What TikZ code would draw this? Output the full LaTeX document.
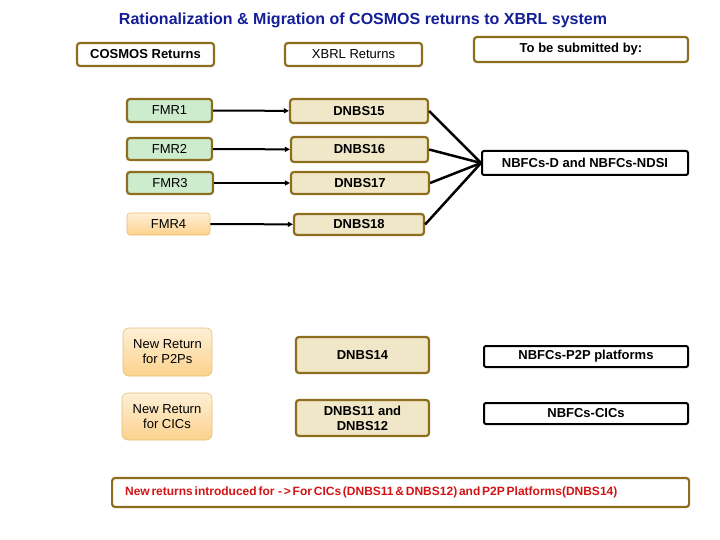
\documentclass[tikz,border=0pt]{standalone}
\usepackage{fontspec}
\setmainfont{Liberation Sans}
\usetikzlibrary{arrows.meta}
\definecolor{olive}{RGB}{140,110,30}
\definecolor{grn}{RGB}{205,235,205}
\definecolor{tan}{RGB}{240,230,200}
\definecolor{peach}{RGB}{252,210,140}
\definecolor{ttl}{RGB}{20,30,150}
\definecolor{redt}{RGB}{210,20,20}
\begin{document}
\begin{tikzpicture}[x=1pt,y=-1pt,
  bx/.style={rounded corners=3pt,line width=2.2pt,draw=olive,inner sep=0pt,font=\fontsize{13}{15}\selectfont},
  hdr/.style={bx,fill=white,font=\fontsize{13}{15}\selectfont\bfseries},
  fmr/.style={bx,fill=grn},
  dn/.style={bx,fill=tan,font=\fontsize{13}{15}\selectfont\bfseries,align=center},
  nr/.style={rounded corners=6pt,draw=peach!80!olive,line width=0.6pt,top color=peach!35,bottom color=peach,inner sep=0pt,align=center,font=\fontsize{13}{15}\selectfont},
  sb/.style={rounded corners=2pt,draw=black,line width=2pt,fill=white,inner sep=0pt,font=\fontsize{13}{15}\selectfont\bfseries},
  ar/.style={line width=2pt,-{Triangle[length=5pt,width=5pt]}},
  ln/.style={line width=2.5pt}]
\useasboundingbox (0,0) rectangle (720,540);
\node[font=\fontsize{16}{18}\selectfont\bfseries,text=ttl] (title) at (363,20) {Rationalization \& Migration of COSMOS returns to XBRL system};
\node[hdr,minimum width=137,minimum height=23] (cr) at (145.5,54.5) {COSMOS Returns};
\node[hdr,minimum width=137,minimum height=23,font=\fontsize{13}{15}\selectfont] (xr) at (353.5,54.5) {XBRL Returns};
\node[hdr,minimum width=214,minimum height=25] (tb) at (581,49.5) {To be submitted by:};
\node[fmr,minimum width=85,minimum height=23] (f1) at (169.5,110.5) {FMR1};
\node[fmr,minimum width=85,minimum height=22] (f2) at (169.5,149) {FMR2};
\node[fmr,minimum width=86,minimum height=22] (f3) at (170,183) {FMR3};
\node[nr,minimum width=83,minimum height=22,rounded corners=3pt] (f4) at (168.5,224) {FMR4};
\node[dn,minimum width=138,minimum height=24] (d15) at (359,111) {DNBS15};
\node[dn,minimum width=137,minimum height=25] (d16) at (359.5,149.5) {DNBS16};
\node[dn,minimum width=138,minimum height=22] (d17) at (360,183) {DNBS17};
\node[dn,minimum width=130,minimum height=21] (d18) at (359,224.5) {DNBS18};
\node[sb,minimum width=206,minimum height=24] (nd) at (585,163) {NBFCs-D and NBFCs-NDSI};
\coordinate (m) at (nd.west);
\draw[ar] (f1) -- (d15);
\draw[ar] (f2) -- (d16);
\draw[ar] (f3) -- (d17);
\draw[ar] (f4) -- (d18);
\draw[ln] (d15.east) -- (m);
\draw[ln] (d16.east) -- (m);
\draw[ln] (d17.east) -- (m);
\draw[ln] (d18.east) -- (m);
\node[nr,minimum width=89,minimum height=48] (np) at (167.5,352) {New Return\\for P2Ps};
\node[nr,minimum width=90,minimum height=47] (nc) at (167,416.5) {New Return\\for CICs};
\node[dn,minimum width=133,minimum height=36] (d14) at (362.5,355) {DNBS14};
\node[dn,minimum width=133,minimum height=36] (d11) at (362.5,418) {DNBS11 and\\DNBS12};
\node[sb,minimum width=204,minimum height=21] (pp) at (586,356.5) {NBFCs-P2P platforms};
\node[sb,minimum width=204,minimum height=21] (ci) at (586,413.5) {NBFCs-CICs};
\node[bx,fill=white,minimum width=577,minimum height=29,text=redt,font=\fontsize{12}{14}\selectfont\bfseries,anchor=west,text width=565,align=left] (note) at (111,492.5) {\hspace*{7pt}\spaceskip=0.15em New returns introduced for \ - > For CICs (DNBS11 \& DNBS12) and P2P Platforms(DNBS14)};
\end{tikzpicture}
\end{document}
